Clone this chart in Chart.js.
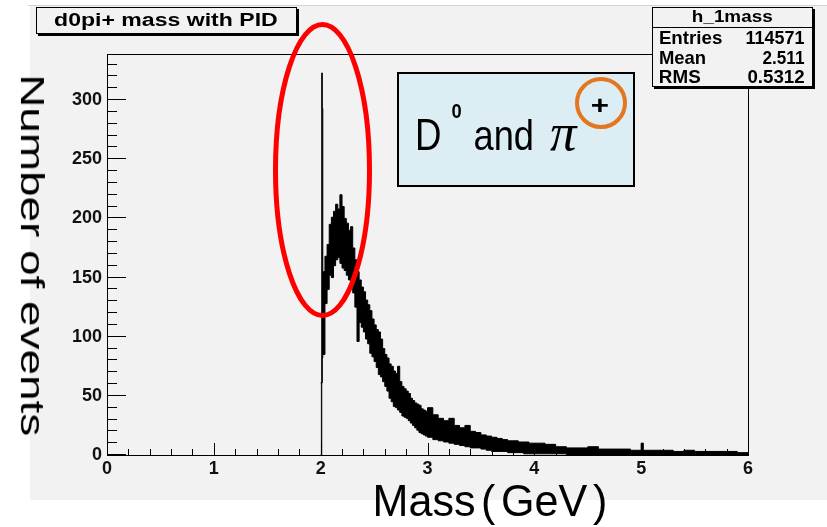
<!DOCTYPE html>
<html>
<head>
<meta charset="utf-8">
<script src="https://cdn.jsdelivr.net/npm/chart.js@4.4.1/dist/chart.umd.min.js"></script>
<style>
html,body{margin:0;padding:0;background:#fff;}
#wrap{position:relative;width:827px;height:527px;overflow:hidden;}
#c{position:absolute;left:0;top:0;}
.t{position:absolute;left:0;top:0;white-space:nowrap;transform-origin:0 0;color:#000;}
.box{position:absolute;box-sizing:border-box;}
.gap{margin:0 0.13em;}
.gapl{margin-left:0.13em;}
svg{position:absolute;left:0;top:0;}
</style>
</head>
<body>
<div id="wrap">
<canvas id="c" width="827" height="527"></canvas>
<div class="box" style="left:36px;top:7px;width:261px;height:27px;border:1px solid #000;background:#f2f2f2;box-shadow:2px 2px 0 #000;"></div>
<div class="box" style="left:652px;top:7px;width:161px;height:80px;border:1px solid #000;background:#f2f2f2;box-shadow:2px 2px 0 #000;"></div>
<div class="box" style="left:652px;top:27px;width:161px;height:1px;background:#000;"></div>
<div class="box" style="left:397px;top:72px;width:238px;height:115px;border:2px solid #000;background:#dceef4;"></div>
</div>
<script>
// ---------------- data ----------------
// left edge of each histogram bin (GeV); last entry closes the final bin
const massBinEdges = [
  2.000, 2.010, 2.015,
  2.02, 2.04, 2.06, 2.08, 2.10, 2.12, 2.14, 2.16, 2.18, 2.20, 2.22, 2.24, 2.26, 2.28, 2.30,
  2.32, 2.34, 2.36, 2.38, 2.40, 2.42, 2.44, 2.46, 2.48, 2.50, 2.52, 2.54, 2.56, 2.58, 2.60,
  2.62, 2.64, 2.66, 2.68, 2.70, 2.72, 2.74, 2.76, 2.78, 2.80, 2.82, 2.84, 2.86, 2.88, 2.90,
  2.92, 2.94, 2.96, 2.98,
  3.00, 3.05, 3.10, 3.15, 3.20, 3.25, 3.30, 3.35, 3.40, 3.45, 3.50, 3.55, 3.60, 3.65, 3.70,
  3.75, 3.80, 3.85, 3.90, 3.95,
  4.00, 4.10, 4.20, 4.30, 4.40, 4.50, 4.60, 4.70, 4.80, 4.90, 5.00, 5.02, 5.10, 5.20, 5.30,
  5.40, 5.50, 5.60, 5.70, 5.80, 5.90,
  6.00
];
// upper envelope of the (very finely binned) event counts in each bin
const countsUpper = [
  61, 323, 293,
  155, 168, 178, 195, 201, 206, 212, 208, 220, 210, 200, 196, 190, 193, 175,
  165, 155, 148, 142, 138, 131, 127, 122, 115, 110, 106, 104, 98, 90, 85,
  82, 77, 75, 71, 69, 75, 62, 58, 56, 54, 52, 48, 46, 44, 43,
  42, 39, 38, 37,
  40, 34, 31, 29, 31, 25, 23, 25, 20, 19, 17, 16, 15, 14, 13,
  12, 12, 11, 11, 10,
  10, 9, 7, 6, 6, 7, 5, 5, 5, 4, 10, 4, 4, 4, 3,
  4, 3, 3, 3, 3, 2
];
// lower envelope of the event counts in each bin
const countsLower = [
  0, 61, 82,
  85, 128, 140, 152, 150, 160, 165, 167, 162, 158, 156, 152, 148, 145, 137,
  125, 96, 112, 108, 104, 98, 94, 86, 83, 79, 74, 68, 66, 62, 58,
  54, 48, 45, 41, 40, 38, 36, 33, 32, 31, 29, 27, 25, 23, 21,
  19, 18, 17, 16,
  15, 13, 12, 11, 10, 9, 8, 7, 6, 6, 5, 4, 3, 3, 3,
  2, 2, 2, 1, 1,
  1, 1, 1, 0, 0, 0, 0, 0, 0, 0, 0, 0, 0, 0, 0,
  0, 0, 0, 0, 0, 0
];
const xTickValues = [0, 1, 2, 3, 4, 5, 6];
const yTickValues = [0, 50, 100, 150, 200, 250, 300];
const xMinorStep = 0.2;
const yMinorStep = 10;
const xRange = [0, 6];
const yRange = [0, 339];

const statsRows = [["Entries", "114571"], ["Mean", "2.511"], ["RMS", "0.5312"]];

// ---------------- chart ----------------
function stepPoints(vals) {
  return massBinEdges.map((e, i) => ({x: e, y: i < vals.length ? vals[i] : vals[vals.length - 1]}));
}

const backgroundPlugin = {
  id: 'canvasBg',
  beforeDraw(chart) {
    const c = chart.ctx;
    c.save();
    c.fillStyle = '#ffffff';
    c.fillRect(0, 0, chart.width, chart.height);
    c.fillStyle = '#f2f2f2';
    c.fillRect(30, 5, chart.width - 30, 495);
    c.fillStyle = '#d4d4d4';
    c.fillRect(28, 5, chart.width - 28, 1);
    c.restore();
  }
};

const rootAxesPlugin = {
  id: 'rootAxes',
  afterDatasetsDraw(chart) {
    const {ctx, chartArea: a, scales: {x, y}} = chart;
    ctx.save();
    ctx.strokeStyle = '#000';
    ctx.lineWidth = 1;
    ctx.beginPath();
    const nY = Math.round((yRange[1] - yRange[0]) / yMinorStep);
    for (let i = 0; i <= nY; i++) {
      const v = yRange[0] + i * yMinorStep;
      if (v > yRange[1]) break;
      const p = Math.round(y.getPixelForValue(v)) - 0.5;
      const major = yTickValues.includes(v);
      ctx.moveTo(a.left, p);
      ctx.lineTo(a.left + (major ? 19 : 10), p);
    }
    const nX = Math.round((xRange[1] - xRange[0]) / xMinorStep);
    for (let i = 0; i <= nX; i++) {
      const v = +(xRange[0] + i * xMinorStep).toFixed(4);
      const p = Math.round(x.getPixelForValue(v)) + 0.5;
      const major = xTickValues.includes(v);
      ctx.moveTo(p, a.bottom);
      ctx.lineTo(p, a.bottom - (major ? 12 : 6));
    }
    ctx.stroke();
    ctx.strokeRect(a.left + 0.5, a.top + 0.5, a.right - a.left, a.bottom - a.top);
    ctx.restore();
  }
};

const tickFont = {family: "'Liberation Sans', Arial, sans-serif", size: 18, weight: 'bold'};

new Chart(document.getElementById('c'), {
  type: 'line',
  data: {
    datasets: [
      {label: 'lower', data: stepPoints(countsLower), stepped: true, borderColor: '#000',
       borderWidth: 1, pointRadius: 0, fill: false},
      {label: 'h_1mass', data: stepPoints(countsUpper), stepped: true, borderColor: '#000',
       borderWidth: 1, pointRadius: 0, fill: '-1', backgroundColor: '#000'}
    ]
  },
  options: {
    responsive: false,
    animation: false,
    devicePixelRatio: 1,
    layout: {padding: {left: 0, top: 54, right: 79, bottom: 32}},
    plugins: {legend: {display: false}, title: {display: false}, tooltip: {enabled: false}},
    scales: {
      x: {
        type: 'linear', min: xRange[0], max: xRange[1],
        grid: {display: false, drawTicks: false}, border: {display: false},
        afterBuildTicks: s => { s.ticks = xTickValues.map(v => ({value: v})); },
        afterFit: s => { s.height = 40; },
        ticks: {font: tickFont, color: '#111', padding: 3, maxRotation: 0, autoSkip: false,
                callback: v => String(v)}
      },
      y: {
        type: 'linear', min: yRange[0], max: yRange[1],
        grid: {display: false, drawTicks: false}, border: {display: false},
        afterBuildTicks: s => { s.ticks = yTickValues.map(v => ({value: v})); },
        afterFit: s => { s.width = 107; },
        ticks: {font: tickFont, color: '#111', padding: 5, autoSkip: false,
                callback: v => String(v)}
      }
    }
  },
  plugins: [backgroundPlugin, rootAxesPlugin]
});

// ---------------- text overlays (fitted to the reference's ink boxes) ----------------
const wrap = document.getElementById('wrap');
const mctx = document.createElement('canvas').getContext('2d');
function addText(str, o) {
  const fam = o.family, st = o.style || 'normal', wt = o.weight || 'normal';
  mctx.font = `${st} ${wt} 100px ${fam}`;
  const m = mctx.measureText(str);
  const abl = m.actualBoundingBoxLeft, abr = m.actualBoundingBoxRight;
  const aba = m.actualBoundingBoxAscent, abd = m.actualBoundingBoxDescent;
  const fa = m.fontBoundingBoxAscent, fd = m.fontBoundingBoxDescent;
  let size;
  if (o.bottom !== undefined) size = 100 * Math.abs(o.bottom - o.top) / (aba + abd);
  else size = 100 * Math.abs(o.baseline - o.top) / aba;
  const k = size / 100;
  const baseline = o.bottom !== undefined ? o.bottom - abd * k : o.baseline;
  const extra = (o.extraEm || 0) * size;
  const sx = (o.right - o.left) / ((abl + abr) * k + extra);
  const el = document.createElement('div');
  el.className = 't';
  if (o.html) el.innerHTML = o.html; else el.textContent = str;
  el.style.font = `${st} ${wt} ${size}px ${fam}`;
  el.style.lineHeight = size + 'px';
  if (o.color) el.style.color = o.color;
  const b = (size - (fa + fd) * k) / 2 + fa * k;
  if (!o.rotate) {
    const tx = o.left + sx * abl * k, ty = baseline - b;
    el.style.transform = `translate(${tx}px,${ty}px) scale(${sx},1)`;
  } else {
    const tx = baseline + b, ty = o.left + sx * abl * k;
    el.style.transform = `translate(${tx}px,${ty}px) rotate(90deg) scale(${sx},1)`;
  }
  wrap.appendChild(el);
  return el;
}
const sans = "'Liberation Sans', Arial, sans-serif";

addText('d0pi+ mass with PID', {family: sans, weight: 'bold', left: 55, right: 277, top: 13.5, baseline: 26.7});
addText('h_1mass', {family: sans, weight: 'bold', left: 693, right: 772, top: 10, baseline: 21.7});
const rowBase = [45, 65, 84];
statsRows.forEach((r, i) => {
  const bl = rowBase[i], tp = bl - 13;
  const labW = [61.7, 45, 40][i];
  const valL = [746.7, 763, 748][i];
  addText(r[0], {family: sans, weight: 'bold', left: 660, right: 660 + labW, top: tp, baseline: bl});
  addText(r[1], {family: sans, weight: 'bold', left: valL, right: 804, top: tp, baseline: bl});
});

addText('D', {family: sans, left: 418, right: 440, top: 120, baseline: 151});
addText('0', {family: sans, weight: 'bold', left: 452, right: 461, top: 104, baseline: 118});
addText('and', {family: sans, left: 475, right: 532, top: 120, baseline: 151});
addText('π', {family: "'Liberation Serif', 'DejaVu Serif', serif", style: 'italic', left: 550, right: 578, top: 127, baseline: 151});
addText('+', {family: sans, weight: 'bold', left: 592, right: 608, top: 100, bottom: 113});

addText('Number of events', {family: sans, rotate: true, left: 78, right: 435, top: 44, baseline: 20});
addText('Mass(GeV)', {family: sans, left: 376, right: 605, top: 485, bottom: 526, extraEm: 0.39,
  html: 'Mass<span class="gap">(</span>GeV<span class="gapl">)</span>'});

// annotation marks drawn on top
const svgNS = 'http://www.w3.org/2000/svg';
const svg = document.createElementNS(svgNS, 'svg');
svg.setAttribute('width', 827); svg.setAttribute('height', 527);
const ell = document.createElementNS(svgNS, 'ellipse');
ell.setAttribute('cx', 322.5); ell.setAttribute('cy', 170); ell.setAttribute('rx', 47); ell.setAttribute('ry', 145.5);
ell.setAttribute('fill', 'none'); ell.setAttribute('stroke', '#ff0000'); ell.setAttribute('stroke-width', 5);
const circ = document.createElementNS(svgNS, 'circle');
circ.setAttribute('cx', 601); circ.setAttribute('cy', 103); circ.setAttribute('r', 24);
circ.setAttribute('fill', 'none'); circ.setAttribute('stroke', '#e3761f'); circ.setAttribute('stroke-width', 4);
svg.appendChild(ell); svg.appendChild(circ);
wrap.appendChild(svg);
</script>
</body>
</html>
